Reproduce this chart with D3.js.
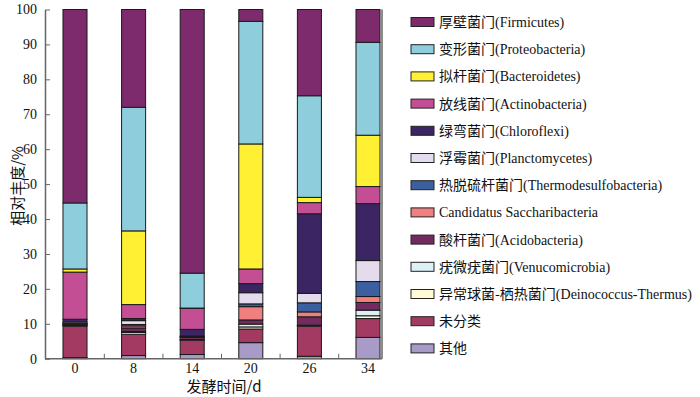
<!DOCTYPE html>
<html><head><meta charset="utf-8">
<script src="https://cdn.jsdelivr.net/npm/d3@7"></script>
<style>
html,body{margin:0;padding:0;background:#fff;}
svg{display:block;}
.lat{font-family:"Liberation Serif","DejaVu Serif",serif;}
</style></head>
<body><svg id="c" width="700" height="397"></svg>
<script>
const categories = ["0","8","14","20","26","34"];
const seriesNames = ["其他","未分类","异常球菌-栖热菌门(Deinococcus-Thermus)","疣微疣菌门(Venucomicrobia)","酸杆菌门(Acidobacteria)","Candidatus Saccharibacteria","热脱硫杆菌门(Thermodesulfobacteria)","浮霉菌门(Planctomycetes)","绿弯菌门(Chloroflexi)","放线菌门(Actinobacteria)","拟杆菌门(Bacteroidetes)","变形菌门(Proteobacteria)","厚壁菌门(Firmicutes)"];
const colors = ["#a99bc8","#a33a62","#fffbd6","#ddf0f5","#722b5f","#f08080","#3c5fa0","#e4dcec","#3b2562","#c44e93","#fff033","#8ecddc","#7d2b6c"];
// values per series, in category order
const other      = [0.3, 0.9, 1.2, 4.6, 0.7, 6.1];
const unclass    = [9.0, 6.1, 4.1, 3.9, 8.6, 5.4];
const deino      = [0.2, 0.5, 0.1, 0.6, 0.15, 0.8];
const verruco    = [0.2, 0.3, 0.1, 0.8, 0.15, 1.6];
const acido      = [0.2, 1.0, 0.6, 1.2, 2.4, 2.2];
const candidatus = [0.1, 0.6, 0.1, 3.8, 1.4, 1.7];
const thermo     = [0.1, 0.4, 0.1, 0.8, 2.6, 4.3];
const plancto    = [0.4, 1.1, 0.2, 3.2, 2.7, 6.0];
const chloro     = [0.8, 0.6, 1.9, 2.6, 22.8, 16.3];
const actino     = [13.5, 4.0, 6.0, 4.2, 3.2, 4.9];
const bactero    = [0.9, 21.1, 0.1, 35.8, 1.5, 14.7];
const proteo     = [18.9, 35.4, 10.0, 35.1, 29.1, 26.6];
const firmi      = [55.4, 28.0, 75.5, 3.4, 24.7, 9.4];
const series = [other, unclass, deino, verruco, acido, candidatus, thermo, plancto, chloro, actino, bactero, proteo, firmi];
const yTicks = [0,10,20,30,40,50,60,70,80,90,100];
const yLabel = "相对丰度/%";
const xLabel = "发酵时间/d";

const svg = d3.select("#c");
const y0 = 358.7, y1 = 9.5, xL = 45, xR = 382;
const x = d3.scaleBand().domain(categories).range([45.7, 397.3]).paddingInner(0.59).paddingOuter(0.295);
const y = d3.scaleLinear().domain([0,100]).range([y0, y1]);

const rows = categories.map((c,i)=>{const o={cat:c}; series.forEach((s,k)=>o["s"+k]=s[i]); return o;});
const stack = d3.stack().keys(series.map((s,k)=>"s"+k))(rows);

const g = svg.append("g");
stack.forEach((layer,k)=>{
  g.selectAll(null).data(layer).enter().append("rect")
    .attr("x", d=>x(d.data.cat))
    .attr("width", x.bandwidth())
    .attr("y", d=>y(Math.min(d[1],100)))
    .attr("height", d=>Math.max(0, y(d[0])-y(Math.min(d[1],100))))
    .attr("fill", colors[k])
    .attr("stroke", "#1a1a1a").attr("stroke-width", 1);
});

// axes
const yAxis = d3.axisLeft(y).tickValues(yTicks).tickSizeInner(-5).tickSizeOuter(0).tickPadding(8);
const ya = svg.append("g").attr("transform", `translate(${xL},0)`).call(yAxis);
ya.select(".domain").attr("stroke","#666").attr("stroke-width",1.5);
ya.selectAll(".tick line").attr("stroke","#666");
ya.selectAll("text").attr("class","lat").style("font-size","14px").attr("fill","#111");

svg.append("line").attr("x1",xR).attr("x2",xR).attr("y1",y1).attr("y2",y0).attr("stroke","#666").attr("stroke-width",1.5);
svg.append("line").attr("x1",xL).attr("x2",xR).attr("y1",y0).attr("y2",y0).attr("stroke","#666").attr("stroke-width",1.5);

// x ticks between bars
const step = x.step();
categories.slice(0,-1).forEach(c=>{
  const xm = x(c) + x.bandwidth()/2 + step/2;
  svg.append("line").attr("x1",xm).attr("x2",xm).attr("y1",y0).attr("y2",y0-5).attr("stroke","#666");
});
svg.selectAll(null).data(categories).enter().append("text")
  .attr("class","lat").attr("x", d=>x(d)+x.bandwidth()/2).attr("y", 373)
  .attr("text-anchor","middle").style("font-size","14px").attr("fill","#111").text(d=>d);

svg.append("text").attr("x",224).attr("y",392).attr("text-anchor","middle")
  .style("font-family","'Noto Sans CJK SC','Liberation Serif',serif").style("font-size","15px").attr("fill","#111").text(xLabel);
svg.append("text").attr("transform","translate(23,186) rotate(-90)").attr("text-anchor","middle")
  .style("font-family","'Noto Sans CJK SC','Liberation Serif',serif").style("font-size","15px").attr("fill","#111").text(yLabel);

// legend, top to bottom = reverse series order
const legOrder = d3.range(series.length).reverse();
const lg = svg.append("g");
legOrder.forEach((k,i)=>{
  const cy = 22 + i*27.2;
  lg.append("rect").attr("x",411).attr("y",cy-4.5).attr("width",23).attr("height",9)
    .attr("fill",colors[k]).attr("stroke","#222").attr("stroke-width",1);
  const name = seriesNames[k];
  const t = lg.append("text").attr("x",439).attr("y",cy+5).style("font-size","14px").attr("fill","#111")
    .style("font-family","'Liberation Serif','Noto Sans CJK SC',serif");
  const m = name.match(/^([^(]*?)(\(.*\))?$/);
  const cn = m[1], en = m[2]||"";
  if (/^[A-Za-z]/.test(cn)) { t.text(cn); }
  else {
    t.append("tspan").style("font-family","'Noto Sans CJK SC',sans-serif").style("font-size","14px").text(cn);
    if (en) t.append("tspan").text(en);
  }
});
</script></body></html>
